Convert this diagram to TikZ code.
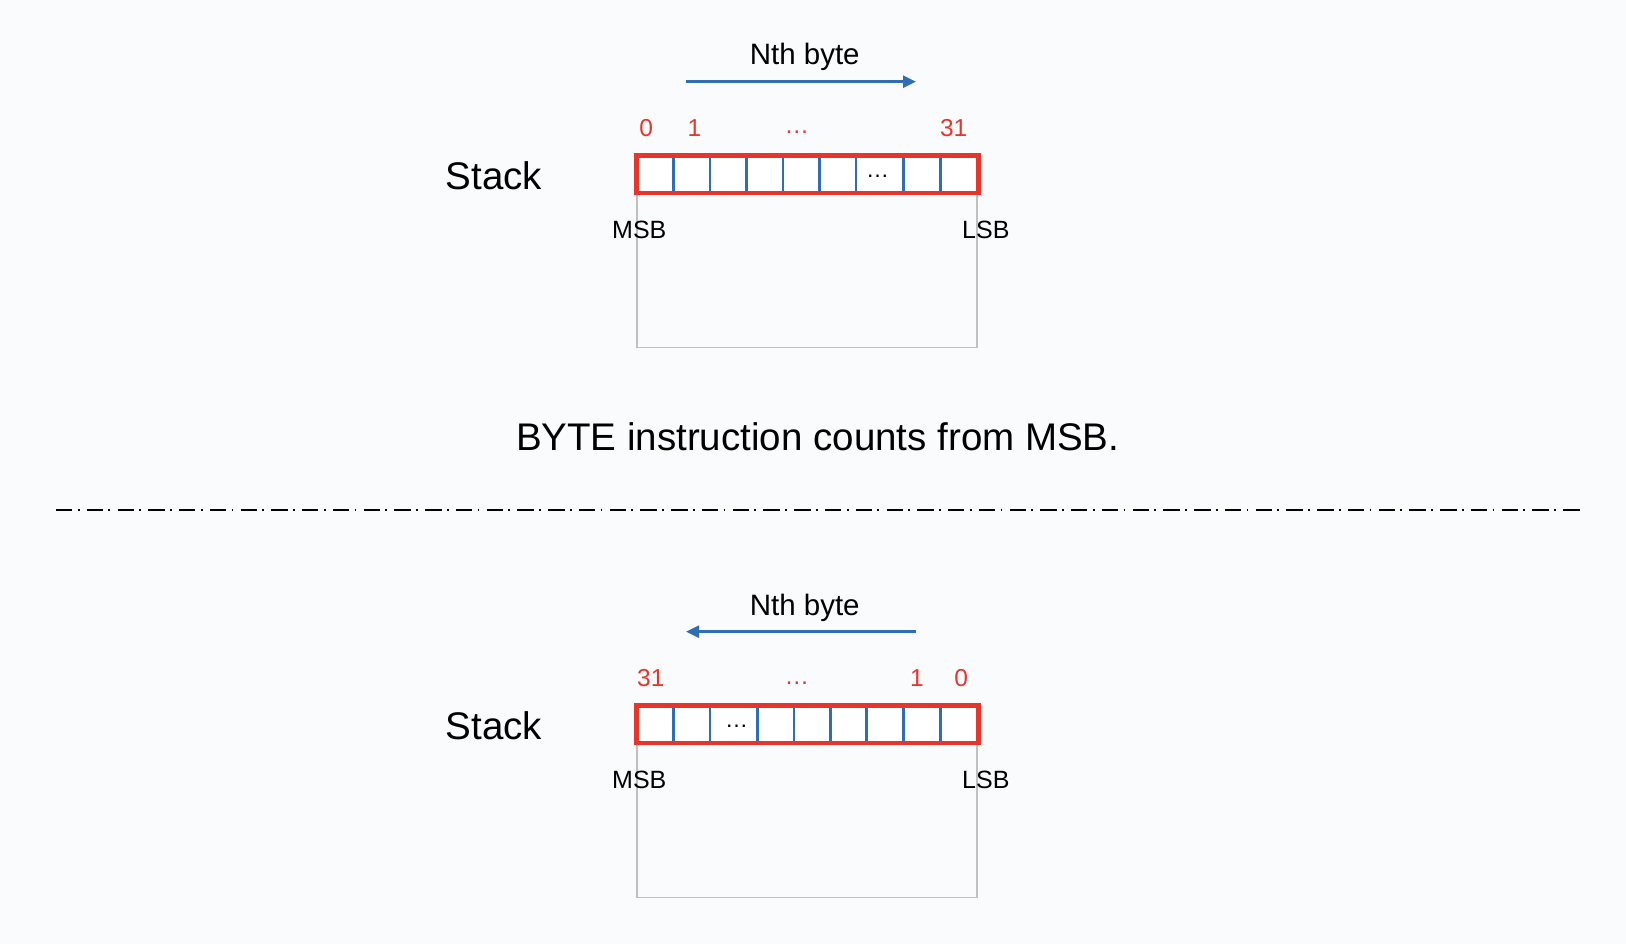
\documentclass[tikz,border=0pt]{standalone}
\usepackage{fontspec}
\setmainfont{Liberation Sans}
\usetikzlibrary{arrows.meta,shadows}
\definecolor{bgc}{RGB}{250,251,253}
\definecolor{regred}{RGB}{232,53,43}
\definecolor{regblue}{RGB}{47,109,181}
\definecolor{boxgray}{RGB}{192,192,192}
\tikzset{
  txt/.style={anchor=base,inner sep=0pt,outer sep=0pt},
  bigtxt/.style={txt,font=\fontsize{38.5}{40}\selectfont},
  midtxt/.style={txt,font=\fontsize{29.5}{31}\selectfont},
  lbltxt/.style={txt,font=\fontsize{25}{27}\selectfont},
  idxtxt/.style={txt,text=regred,font=\fontsize{24.5}{26}\selectfont},
  dotstxt/.style={txt,font=\fontsize{23}{24}\selectfont},
  regbox/.style={draw=regred,line width=3.2pt,fill=white,minimum width=340pt,minimum height=36pt,inner sep=0pt,
    drop shadow={shadow xshift=1.5pt,shadow yshift=-3pt,opacity=0.22,fill=black}},
  stackbox/.style={draw=boxgray,line width=1.6pt,inner sep=0pt},
  divider/.style={draw=regblue,line width=2.6pt},
  dirarrow/.style={draw=regblue,line width=2.6pt,-{Triangle[length=13pt,width=12pt]}},
  sepline/.style={line width=2pt,dash pattern=on 16.4pt off 5.3pt on 1.8pt off 7.26pt}
}
\begin{document}
\begin{tikzpicture}[x=1pt,y=-1pt]
\fill[bgc] (0,0) rectangle (1626,944);
\useasboundingbox (0,0) rectangle (1626,944);

% ===== top half =====
\node[midtxt] (nth1) at (804.7,65) {Nth byte};
\coordinate (a1s) at (686,81.7);
\coordinate (a1e) at (916,81.7);
\draw[dirarrow] (a1s) -- (a1e);

\node[idxtxt] (i1a) at (646.3,136.7) {0};
\node[idxtxt] (i1b) at (694.5,136.7) {1};
\node[idxtxt] (i1c) at (796.8,134) {…};
\node[idxtxt] (i1d) at (953.7,136.7) {31};

\node[bigtxt] (stack1) at (494,189.3) {Stack};

\draw[stackbox] (637,156) rectangle (977,347.3);
\node[regbox] (reg1) at (807.5,174.2) {};
\foreach \x in {673.3,710,746.7,783,819.3,856,903.7,940.3}
  \draw[divider] (\x,{156+1.6}) -- (\x,{192.4-1.6});
\draw[draw=regred,line width=3.2pt] (reg1.north west) rectangle (reg1.south east);
\node[dotstxt] (c1) at (877.7,177.3) {…};

\node[lbltxt] (msb1) at (639.3,238.3) {MSB};
\node[lbltxt] (lsb1) at (985.8,238.3) {LSB};

% ===== caption and separator =====
\node[bigtxt] (cap) at (817.7,450) {BYTE instruction counts from MSB.};
\coordinate (sepL) at (56,510);
\coordinate (sepR) at (1580,510);
\draw[sepline] (sepL) -- (sepR);

% ===== bottom half =====
\node[midtxt] (nth2) at (804.7,615) {Nth byte};
\coordinate (a2s) at (916,631.7);
\coordinate (a2e) at (686,631.7);
\draw[dirarrow] (a2s) -- (a2e);

\node[idxtxt] (i2a) at (650.8,686.7) {31};
\node[idxtxt] (i2b) at (796.8,684) {…};
\node[idxtxt] (i2c) at (917,686.7) {1};
\node[idxtxt] (i2d) at (961.3,686.7) {0};

\node[bigtxt] (stack2) at (494,739.3) {Stack};

\draw[stackbox] (637,706) rectangle (977,897.3);
\node[regbox] (reg2) at (807.5,724.2) {};
\foreach \x in {673.3,710,757.3,794,830.7,866.7,903.7,940.3}
  \draw[divider] (\x,{706+1.6}) -- (\x,{742.4-1.6});
\draw[draw=regred,line width=3.2pt] (reg2.north west) rectangle (reg2.south east);
\node[dotstxt] (c2) at (736.7,727.3) {…};

\node[lbltxt] (msb2) at (639.3,788.3) {MSB};
\node[lbltxt] (lsb2) at (985.8,788.3) {LSB};
\end{tikzpicture}
\end{document}
